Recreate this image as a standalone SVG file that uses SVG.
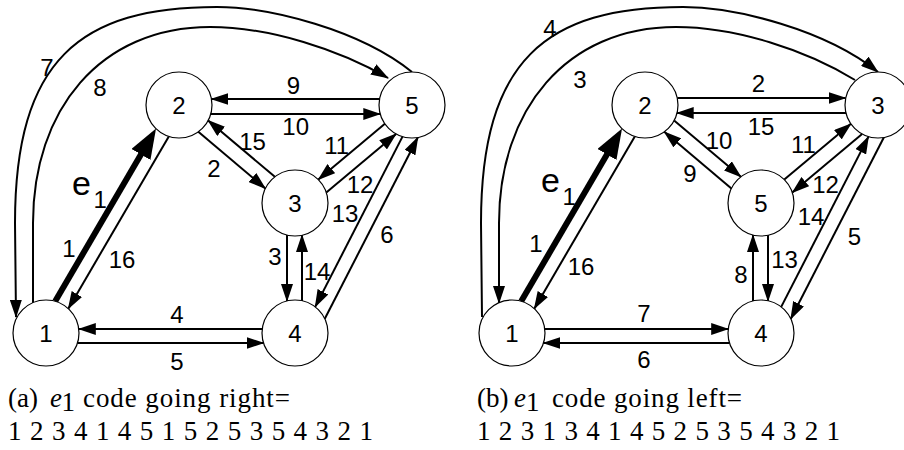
<svg xmlns="http://www.w3.org/2000/svg" width="904" height="450" viewBox="0 0 904 450">
<style>
.n{fill:#fff;stroke:#000;stroke-width:1.2}
.nl{font-family:"Liberation Sans",Arial,sans-serif;font-size:24px;text-anchor:middle;fill:#000}
.e{fill:none;stroke:#000;stroke-width:2;marker-end:url(#ah)}
.t{fill:none;stroke:#000;stroke-width:6;marker-end:url(#ahT)}
.l{font-family:"Liberation Sans",Arial,sans-serif;font-size:24px;text-anchor:middle;fill:#000}
.e1{font-family:"Liberation Sans",Arial,sans-serif;fill:#000}
.cap{font-family:"Liberation Serif","Times New Roman",serif;font-size:27px;fill:#000}
</style>
<defs>
<marker id="ah" markerUnits="userSpaceOnUse" viewBox="0 0 18 12" markerWidth="18" markerHeight="12" refX="17" refY="6" orient="auto"><path d="M0,0 L18,6 L0,12 z" fill="#000"/></marker>
<marker id="ahT" markerUnits="userSpaceOnUse" viewBox="0 0 30 22" markerWidth="30" markerHeight="22" refX="20" refY="11" orient="auto"><path d="M0,0 L30,11 L0,22 z" fill="#000"/></marker>
</defs>

<g id="connectors">
<!-- left graph -->
<path class="e" d="M379.6,99 L211.4,99"/>
<path class="e" d="M210.7,114 L380.3,114"/>
<path class="t" d="M55.2,301.3 L151,137.2"/>
<path class="e" d="M168.8,136.4 L68.3,308.7"/>
<path class="e" d="M198.3,131.8 L265.4,188.5"/>
<path class="e" d="M274.9,176.8 L208.1,120.5"/>
<path class="e" d="M384.9,123.8 L318.3,179.6"/>
<path class="e" d="M326.3,192.5 L396.1,133.9"/>
<path class="e" d="M402.5,136.6 L315.2,306.9"/>
<path class="e" d="M324.8,318.8 L417.8,137.5"/>
<path class="e" d="M287,235 L287,301"/>
<path class="e" d="M302,301 L302,235"/>
<path class="e" d="M262.2,329 L78.8,329"/>
<path class="e" d="M77.4,343 L263.5,343"/>
<path class="e" d="M412,72 C360,30 270,7 217,7 C80,7 15,60 15,223 L16,317"/>
<path class="e" d="M33,303 L33,223 C33,110 100,27 210,27 C270,27 340,50 388,78"/>
<!-- right graph -->
<path class="e" d="M677.4,98 L845.6,98"/>
<path class="e" d="M846.3,113 L676.7,113"/>
<path class="t" d="M521.2,301.3 L617,137.2"/>
<path class="e" d="M634.8,136.4 L534.3,308.7"/>
<path class="e" d="M674.1,120.5 L740.9,176.8"/>
<path class="e" d="M731.4,188.5 L664.3,131.8"/>
<path class="e" d="M784.3,179.6 L850.9,123.8"/>
<path class="e" d="M862.1,133.9 L792.3,192.5"/>
<path class="e" d="M781.2,306.9 L868.5,136.6"/>
<path class="e" d="M883.8,137.5 L790.8,318.8"/>
<path class="e" d="M753,301 L753,235"/>
<path class="e" d="M768,235 L768,301"/>
<path class="e" d="M544.8,329 L728.2,329"/>
<path class="e" d="M729.5,343 L543.4,343"/>
<path class="e" d="M482,317 L481,223 C481,60 546,7 683,7 C736,7 826,30 878,72"/>
<path class="e" d="M855,80 C806,50 736,27 676,27 C566,27 499,110 499,223 L499,303"/>
</g>

<g id="edge-labels">
<text class="l" x="47" y="75.6">7</text>
<text class="l" x="100" y="96">8</text>
<text class="l" x="293.5" y="93.6">9</text>
<text class="l" x="295.7" y="134.6">10</text>
<text class="l" x="252.5" y="150">15</text>
<text class="l" x="214" y="176.6">2</text>
<text class="l" x="336.7" y="153.6">11</text>
<text class="l" x="360" y="192.6">12</text>
<text class="l" x="345" y="221.6">13</text>
<text class="l" x="387" y="242.6">6</text>
<text class="l" x="275" y="264.6">3</text>
<text class="l" x="317" y="279.6">14</text>
<text class="l" x="69" y="256.6">1</text>
<text class="l" x="122" y="267.6">16</text>
<text class="l" x="177" y="323">4</text>
<text class="l" x="177" y="369.6">5</text>
<text class="e1" x="72" y="195" font-size="34">e</text>
<text class="e1" x="93.5" y="208" font-size="24">1</text>

<text class="l" x="550" y="36.6">4</text>
<text class="l" x="580" y="88">3</text>
<text class="l" x="758.5" y="91.6">2</text>
<text class="l" x="761" y="134.6">15</text>
<text class="l" x="719" y="149">10</text>
<text class="l" x="690" y="182">9</text>
<text class="l" x="803.5" y="152.6">11</text>
<text class="l" x="825.5" y="192.6">12</text>
<text class="l" x="811" y="224.6">14</text>
<text class="l" x="854.5" y="244.6">5</text>
<text class="l" x="741" y="282.6">8</text>
<text class="l" x="784.5" y="267.6">13</text>
<text class="l" x="536" y="252">1</text>
<text class="l" x="581" y="274.6">16</text>
<text class="l" x="644" y="322">7</text>
<text class="l" x="644" y="368">6</text>
<text class="e1" x="541" y="192" font-size="34">e</text>
<text class="e1" x="562.5" y="205" font-size="24">1</text>
</g>

<g id="node-L1"><circle class="n" cx="46" cy="333" r="33"/><text class="nl" x="46" y="341.6">1</text></g>
<g id="node-L2"><circle class="n" cx="179" cy="105" r="33"/><text class="nl" x="179" y="113.6">2</text></g>
<g id="node-L3"><circle class="n" cx="295" cy="203" r="33"/><text class="nl" x="295" y="211.6">3</text></g>
<g id="node-L4"><circle class="n" cx="295" cy="333" r="33"/><text class="nl" x="295" y="341.6">4</text></g>
<g id="node-L5"><circle class="n" cx="412" cy="105" r="33"/><text class="nl" x="412" y="113.6">5</text></g>

<g id="node-R1"><circle class="n" cx="512" cy="333" r="33"/><text class="nl" x="512" y="341.6">1</text></g>
<g id="node-R2"><circle class="n" cx="645" cy="105" r="33"/><text class="nl" x="645" y="113.6">2</text></g>
<g id="node-R5"><circle class="n" cx="761" cy="203" r="33"/><text class="nl" x="761" y="211.6">5</text></g>
<g id="node-R4"><circle class="n" cx="761" cy="333" r="33"/><text class="nl" x="761" y="341.6">4</text></g>
<g id="node-R3"><circle class="n" cx="878" cy="105" r="33"/><text class="nl" x="878" y="113.6">3</text></g>

<g id="caption-a">
<text class="cap" x="8" y="407">(a)</text>
<text class="cap" x="50" y="407" font-style="italic">e</text>
<text class="cap" x="61.5" y="411" font-size="18">1</text>
<text class="cap" x="83" y="407" textLength="207" lengthAdjust="spacing">code going right=</text>
<text class="cap" x="8" y="440" textLength="365" lengthAdjust="spacing">1 2 3 4 1 4 5 1 5 2 5 3 5 4 3 2 1</text>
</g>
<g id="caption-b">
<text class="cap" x="477" y="407">(b)</text>
<text class="cap" x="514" y="407" font-style="italic">e</text>
<text class="cap" x="526" y="411" font-size="18">1</text>
<text class="cap" x="552" y="407" textLength="190" lengthAdjust="spacing">code going left=</text>
<text class="cap" x="477" y="440" textLength="363" lengthAdjust="spacing">1 2 3 1 3 4 1 4 5 2 5 3 5 4 3 2 1</text>
</g>
</svg>
